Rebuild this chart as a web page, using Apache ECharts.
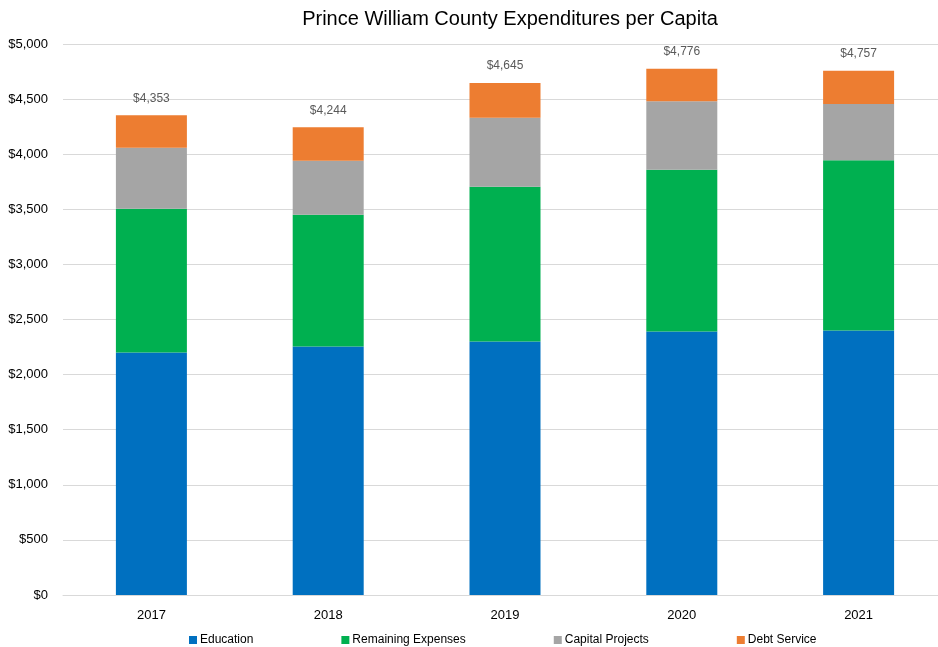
<!DOCTYPE html>
<html><head><meta charset="utf-8">
<script src="https://cdn.jsdelivr.net/npm/echarts@6/dist/echarts.min.js"></script>
<style>html,body{margin:0;padding:0;background:#fff;overflow:hidden}#c{width:948px;height:647px}</style>
</head><body><div id="c"></div>
<script>
const categories = ['2017','2018','2019','2020','2021'];
const education = [2200, 2255, 2300, 2390, 2400];
const remaining = [1305, 1195, 1405, 1470, 1545];
const capital = [553, 490, 625, 620, 510];
const debt = [295, 304, 315, 296, 302];
const totals = [4353, 4244, 4645, 4776, 4757];
const yTicks = [0, 500, 1000, 1500, 2000, 2500, 3000, 3500, 4000, 4500, 5000];

const fontFam = 'Liberation Sans, Arial, sans-serif';
const fmt = v => '$' + v.toLocaleString('en-US');
const chart = echarts.init(document.getElementById('c'));
function mk(name, data, color, extra) {
  return Object.assign({
    name, type: 'bar', stack: 'total', data, barWidth: 71,
    itemStyle: { color }
  }, extra || {});
}
chart.setOption({
  animation: false,
  title: {
    text: 'Prince William County Expenditures per Capita',
    left: 505, top: 4, textAlign: 'center',
    textStyle: { fontFamily: fontFam, fontSize: 20, fontWeight: 'normal', color: '#000' }
  },
  grid: { left: 63, top: 44, width: 884, height: 551 },
  legend: {
    top: 629, left: 184, itemWidth: 8, itemHeight: 8, itemGap: 88, icon: 'rect',
    textStyle: { fontFamily: fontFam, fontSize: 12, color: '#000', padding: [0,0,0,-2] },
    data: ['Education', 'Remaining Expenses', 'Capital Projects', 'Debt Service']
  },
  xAxis: {
    type: 'category', data: categories,
    axisLine: { lineStyle: { color: '#D9D9D9' } },
    axisTick: { show: false },
    axisLabel: { fontFamily: fontFam, fontSize: 13, color: '#000', margin: 14 }
  },
  yAxis: {
    type: 'value', min: yTicks[0], max: yTicks[yTicks.length - 1], interval: 500,
    axisLine: { show: false }, axisTick: { show: false },
    splitLine: { lineStyle: { color: '#D9D9D9' } },
    axisLabel: { fontFamily: fontFam, fontSize: 13, color: '#000', margin: 15, formatter: v => fmt(v) }
  },
  series: [
    mk('Education', education, '#0070C0'),
    mk('Remaining Expenses', remaining, '#00B050'),
    mk('Capital Projects', capital, '#A5A5A5'),
    mk('Debt Service', debt, '#ED7D31', {
      label: {
        show: true, position: 'top', distance: 11,
        fontFamily: fontFam, fontSize: 12, color: '#595959',
        formatter: p => fmt(totals[p.dataIndex])
      }
    })
  ]
});
</script></body></html>
